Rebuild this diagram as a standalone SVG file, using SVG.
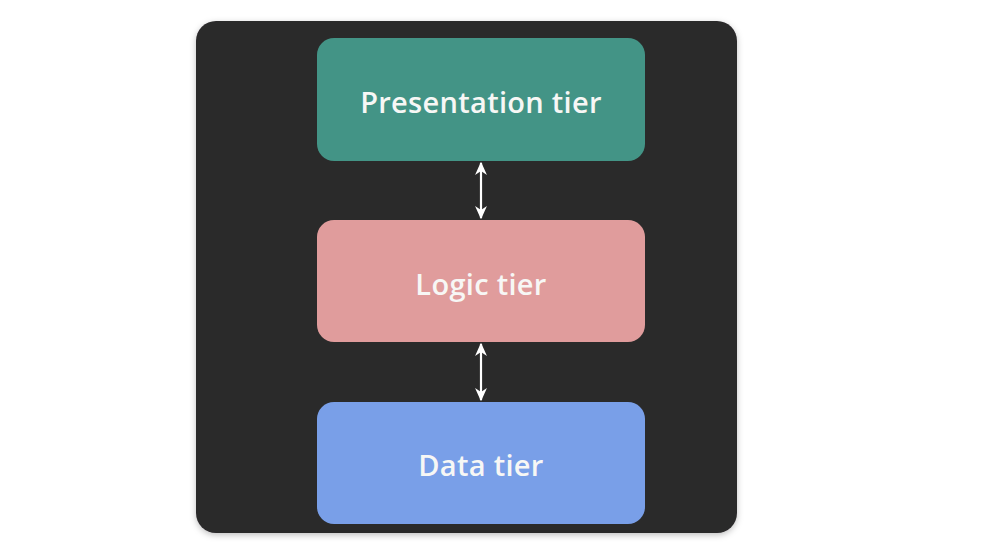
<svg xmlns="http://www.w3.org/2000/svg" width="986" height="560" viewBox="0 0 986 560">
<defs>
<style>
.tier{stroke:none}
.label{font-family:"Open Sans",Lato,sans-serif;font-size:29px;font-weight:600;fill:#f7f7f5;text-anchor:middle;letter-spacing:0.3px;font-variant-ligatures:none}
.conn{stroke:#ffffff;stroke-width:2.2;fill:none;marker-start:url(#ah);marker-end:url(#ah)}
</style>
<marker id="ah" viewBox="0 0 10 10" refX="9" refY="5" markerWidth="6" markerHeight="6" orient="auto-start-reverse" markerUnits="strokeWidth">
<path d="M0,0.5 L10,5 L0,9.5 L3,5 Z" fill="#ffffff"/>
</marker>
<filter id="sh" x="-5%" y="-5%" width="110%" height="110%">
<feDropShadow dx="0" dy="2" stdDeviation="3" flood-color="#000" flood-opacity="0.25"/>
</filter>
</defs>
<rect width="986" height="560" fill="#ffffff"/>
<rect id="background" x="196" y="21" width="541" height="512" rx="20" fill="#2b292c" filter="url(#sh)"/>
<g id="presentation">
<rect class="tier" x="317" y="38" width="328" height="123" rx="17" fill="#439486"/>
<text class="label" x="481" y="113">Presentation tier</text>
</g>
<g id="logic">
<rect class="tier" x="317" y="220" width="328" height="122" rx="17" fill="#e09c9c"/>
<text class="label" x="481" y="295">Logic tier</text>
</g>
<g id="data">
<rect class="tier" x="317" y="402" width="328" height="122" rx="17" fill="#799fe8"/>
<text class="label" x="481" y="476">Data tier</text>
</g>
<g id="connectors">
<line class="conn" x1="481" y1="163" x2="481" y2="218"/>
<line class="conn" x1="481" y1="344" x2="481" y2="400"/>
</g>
</svg>
